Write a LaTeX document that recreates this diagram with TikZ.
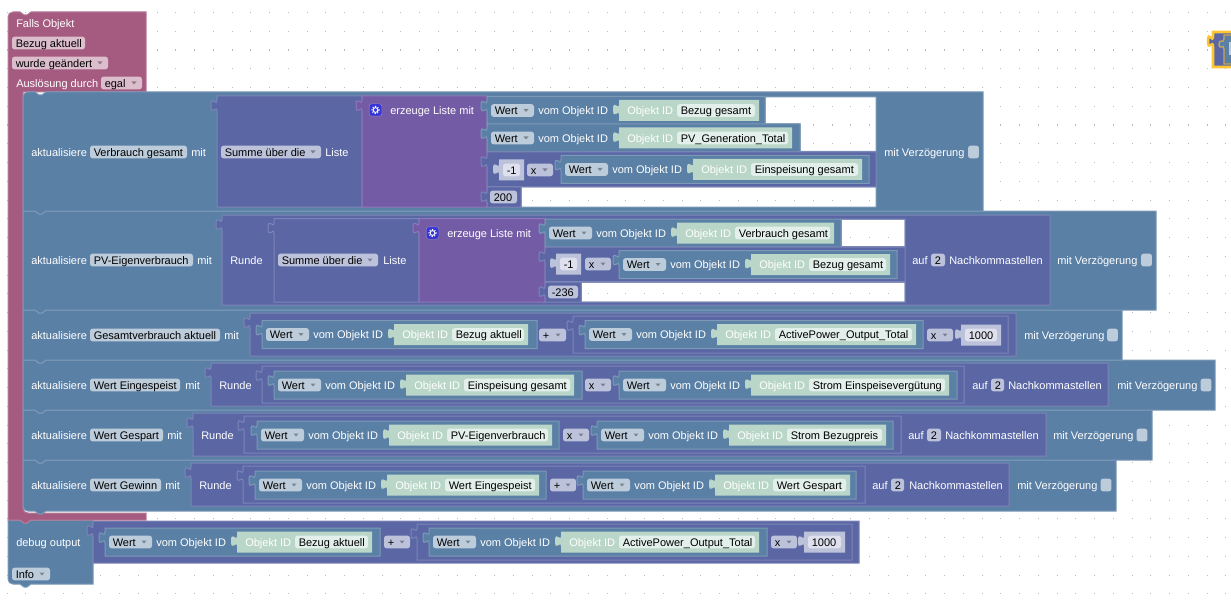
\documentclass[tikz,border=0pt]{standalone}
\usepackage{xcolor}
\usepackage{fontspec}
\setmainfont{Liberation Sans}

\definecolor{redblk}{HTML}{A55B80}
\definecolor{redline}{HTML}{B77C9A}
\definecolor{blueblk}{HTML}{5B80A5}
\definecolor{blueline}{HTML}{7C99B7}
\definecolor{indigoblk}{HTML}{5B67A5}
\definecolor{indigoline}{HTML}{7C85B7}
\definecolor{purpleblk}{HTML}{745BA5}
\definecolor{purpleline}{HTML}{9077B7}
\definecolor{greenblk}{HTML}{B9D6C9}
\definecolor{redfield}{HTML}{DBBDCC}
\definecolor{bluefield}{HTML}{BDCCDB}
\definecolor{indigofield}{HTML}{BDC2DB}
\definecolor{greenfield}{HTML}{E3EFEA}
\definecolor{numfield}{HTML}{DEE0ED}
\definecolor{gridgray}{HTML}{BBBBBB}
\definecolor{selyellow}{HTML}{FCC633}
\definecolor{iconblue}{HTML}{3535D5}

\tikzset{
  blueblock/.style={fill=blueblk,draw=blueline,line width=0.75pt,even odd rule},
  indigoblock/.style={fill=indigoblk,draw=indigoline,line width=0.75pt,even odd rule},
  purpleblock/.style={fill=purpleblk,draw=purpleline,line width=0.75pt},
  redblock/.style={fill=redblk,draw=redline,line width=0.75pt},
  greenblock/.style={fill=greenblk,draw=none},
  lightblock/.style={fill=indigofield,draw=none},
  fieldbox/.style={rounded corners=2pt,inner sep=0pt,minimum height=9.6pt},
  labeltext/.style={font=\fontsize{8.25}{10}\selectfont,text=white,inner sep=0pt,anchor=base west},
  fieldtext/.style={font=\fontsize{8.25}{10}\selectfont,text=black,inner sep=0pt,anchor=base west},
}

\newcommand{\valblock}[6][]{\draw[#2] (#3,#4) -- (#5,#4) -- (#5,#6) -- (#3,#6) -- (#3,#4+15.2) .. controls (#3,#4+7.7) and (#3-6,#4+21.2) .. (#3-6,#4+9.6) .. controls (#3-6,#4-2) and (#3,#4+11.5) .. (#3,#4+4) -- cycle #1;}
\newcommand{\stmtblock}[5][]{\draw[blueblock] (#2,#3) -- (#2+12,#3) -- (#2+16,#3+3) -- (#2+19,#3+3) -- (#2+23,#3) -- (#4,#3) -- (#4,#5) -- (#2+23,#5) -- (#2+19,#5+3) -- (#2+16,#5+3) -- (#2+12,#5) -- (#2,#5) -- cycle #1;}
\newcommand{\lbl}[4]{\node[labeltext] (#1) at (#2,#3+4.4) {#4};}
\newcommand{\txtfield}[6]{\node[fieldbox,fill=#2,minimum width={((#4)-(#3))*0.75pt}] (#1) at ({((#3)+(#4))/2},#5) {};
  \node[fieldtext] (#1txt) at (#3+3.5,#5+4.4) {#6};}
\newcommand{\ddfield}[6]{\txtfield{#1}{#2}{#3}{#4}{#5}{#6}
  \fill[#2!65!black] (#4-10.5,#5-1.5) -- (#4-5.5,#5-1.5) -- (#4-8,#5+1.5) -- cycle;}
\newcommand{\chkbox}[3]{\node[fieldbox,fill=bluefield,minimum width=8.2pt] (#1) at (#2+5.5,#3) {};}
\newcommand{\numblock}[5]{\valblock{lightblock}{#2}{#4-10.5}{#3}{#4+10.5}
  \txtfield{#1}{numfield}{#2+4}{#3-4}{#4}{#5}}
\newcommand{\wertblock}[6]{\valblock{blueblock}{#2}{#3-14}{#5}{#3+14}
  \ddfield{#1dd}{bluefield}{#2+4}{#2+47}{#3}{Wert}
  \lbl{#1vom}{#2+51}{#3}{vom Objekt ID}
  \valblock{greenblock}{#2+132}{#3-10.5}{#4+4}{#3+10.5}
  \lbl{#1oid}{#2+140}{#3}{Objekt ID}
  \txtfield{#1id}{greenfield}{#2+190}{#4}{#3}{#6}}
\newcommand{\iconbox}[3]{\node[rounded corners=2pt,fill=iconblue,draw=purpleline,line width=0.5pt,inner sep=0pt,minimum size=9.5pt] (#1) at (#2,#3) {};
  \draw[white,line width=0.7pt] (#2,#3) circle (2.4);
  \draw[white,line width=0.7pt,dash pattern=on 0.9pt off 1.1pt] (#2,#3) circle (3.6);}

\begin{document}
\begin{tikzpicture}[x=0.75pt,y=0.75pt,yscale=-1,xscale=1]

\useasboundingbox (0,0) rectangle (1231,606);
\fill[white] (0,0) rectangle (1231,606);

\foreach \i in {0,...,65}{\foreach \j in {0,...,31}{
  \fill[gridgray] (6.5+\i*18.75,12+\j*18.75) rectangle (7.7+\i*18.75,13.2+\j*18.75);
}}

\begin{scope}
\clip (1200,20) rectangle (1231,80);
\draw[fill=indigoblk,draw=selyellow,line width=1.9pt] (1240,32) -- (1213,32) -- (1213,36) .. controls (1213,44) and (1208,30) .. (1208,41) .. controls (1208,52) and (1213,39) .. (1213,47) -- (1213,67) -- (1240,67);
\draw[fill=blueblk,draw=selyellow!55!gray,line width=1pt] (1240,35) -- (1224,35) -- (1224,39) .. controls (1224,44) and (1219,38) .. (1219,44) .. controls (1219,51) and (1224,43) .. (1224,49) -- (1224,64) -- (1240,64);
\fill[bluefield] (1229,42) rectangle (1240,55);
\end{scope}

\draw[blueblock] (8,520) -- (20,520) -- (24,523) -- (27,523) -- (31,520) -- (93,520) -- (93,584) -- (31,584) -- (27,587) -- (24,587) -- (20,584) -- (13,584) .. controls (10,584) and (8,582) .. (8,579) -- cycle;
\lbl{dbgtxt}{16}{542}{debug output}
\ddfield{dbginfo}{bluefield}{12}{50}{574}{Info}
\valblock{indigoblock}{93}{521}{859}{563}
\wertblock{dbga}{105}{542}{368}{380}{Bezug aktuell}
\ddfield{dbgop}{indigofield}{384}{410}{542}{+}
\valblock{indigoblock}{417}{524}{852}{560}
\wertblock{dbgb}{429}{542}{755}{767}{ActivePower\_Output\_Total}
\ddfield{dbgmul}{indigofield}{771}{797}{542}{x}
\numblock{dbgnum}{804}{845}{542}{1000}

\draw[redblock] (8,17) .. controls (8,14) and (10,12) .. (13,12) -- (20,12) -- (24,15) -- (27,15) -- (31,12) -- (146,12) -- (146,92) -- (23,92) -- (23,508) .. controls (23,511) and (25,513) .. (28,513) -- (146,513) -- (146,520) -- (31,520) -- (27,523) -- (24,523) -- (20,520) -- (8,520) -- cycle;
\lbl{trigtitle}{16}{23}{Falls Objekt}
\txtfield{trigobj}{redfield}{12}{85}{43}{Bezug aktuell}
\ddfield{trigchg}{redfield}{12}{108}{63}{wurde geändert}
\lbl{trigby}{16}{83}{Auslösung durch}
\ddfield{trigegal}{redfield}{101}{142}{83}{egal}

\draw[blueblock] (23,460) -- (35,460) -- (39,463) -- (42,463) -- (46,460) -- (1116,460) -- (1116,511) -- (46,511) -- (42,514) -- (39,514) -- (35,511) -- (28,511) .. controls (25,511) and (23,509) .. (23,506) -- cycle;
\lbl{rowfa}{31}{485}{aktualisiere}
\txtfield{rowfb}{bluefield}{90}{161}{485}{Wert Gewinn}
\lbl{rowfc}{165}{485}{mit}
\valblock{indigoblock}{191}{463}{1009}{506}
\lbl{rowfd}{199}{485}{Runde}
\valblock{indigoblock}{243}{466}{865}{503}
\wertblock{rowfe}{255}{485}{535}{546}{Wert Eingespeist}
\ddfield{rowff}{indigofield}{550}{576}{485}{+}
\wertblock{rowfg}{583}{485}{846}{856}{Wert Gespart}
\lbl{rowfh}{872}{485}{auf}
\txtfield{rowfi}{indigofield}{891}{904}{485}{2}
\lbl{rowfj}{909}{485}{Nachkommastellen}
\lbl{rowfk}{1017}{485}{mit Verzögerung}
\chkbox{rowfl}{1100.5}{485}

\stmtblock{23}{410}{1152}{460}
\lbl{rowea}{31}{435}{aktualisiere}
\txtfield{roweb}{bluefield}{90}{163}{435}{Wert Gespart}
\lbl{rowec}{167}{435}{mit}
\valblock{indigoblock}{193}{413}{1046}{456}
\lbl{rowed}{201}{435}{Runde}
\valblock{indigoblock}{244}{416}{901}{453}
\wertblock{rowee}{257}{435}{548}{559}{PV-Eigenverbrauch}
\ddfield{rowef}{indigofield}{563}{589}{435}{x}
\wertblock{roweg}{597}{435}{882}{893}{Strom Bezugpreis}
\lbl{roweh}{908}{435}{auf}
\txtfield{rowei}{indigofield}{927}{941}{435}{2}
\lbl{rowej}{945}{435}{Nachkommastellen}
\lbl{rowek}{1053}{435}{mit Verzögerung}
\chkbox{rowel}{1136.5}{435}

\stmtblock{23}{360}{1215}{410}
\lbl{rowda}{31}{385}{aktualisiere}
\txtfield{rowdb}{bluefield}{90}{180}{385}{Wert Eingespeist}
\lbl{rowdc}{185}{385}{mit}
\valblock{indigoblock}{211}{363}{1108}{406}
\lbl{rowdd}{219}{385}{Runde}
\valblock{indigoblock}{262}{366}{964}{403}
\wertblock{rowde}{274}{385}{570}{582}{Einspeisung gesamt}
\ddfield{rowdf}{indigofield}{585}{611}{385}{x}
\wertblock{rowdg}{619}{385}{945}{957}{Strom Einspeisevergütung}
\lbl{rowdh}{972}{385}{auf}
\txtfield{rowdi}{indigofield}{991}{1004}{385}{2}
\lbl{rowdj}{1008}{385}{Nachkommastellen}
\lbl{rowdk}{1117}{385}{mit Verzögerung}
\chkbox{rowdl}{1200.5}{385}

\stmtblock{23}{310}{1122}{360}
\lbl{rowca}{31}{335}{aktualisiere}
\txtfield{rowcb}{bluefield}{90}{220}{335}{Gesamtverbrauch aktuell}
\lbl{rowcc}{224}{335}{mit}
\valblock{indigoblock}{250}{313}{1016}{356}
\wertblock{rowcd}{262}{334.5}{524}{537}{Bezug aktuell}
\ddfield{rowce}{indigofield}{539}{566}{335}{+}
\valblock{indigoblock}{573}{316}{1008}{353}
\wertblock{rowcf}{585}{334.5}{912}{923}{ActivePower\_Output\_Total}
\ddfield{rowcg}{indigofield}{927}{953}{335}{x}
\numblock{rowch}{961}{1001}{335}{1000}
\lbl{rowci}{1024}{335}{mit Verzögerung}
\chkbox{rowcj}{1107}{335}

\stmtblock[(841,219) rectangle (905,246.5) (581,282) rectangle (905,302)]{23}{211}{1156}{310}
\lbl{rowba}{31}{260}{aktualisiere}
\txtfield{rowbb}{bluefield}{90}{193}{260}{PV-Eigenverbrauch}
\lbl{rowbc}{197}{260}{mit}
\valblock[(841,219) rectangle (905,246.5) (581,282) rectangle (905,302)]{indigoblock}{222}{215}{1050}{305}
\lbl{rowbd}{230}{260}{Runde}
\valblock{indigoblock}{274}{218.5}{419}{302}
\ddfield{rowbe}{indigofield}{278}{378}{260}{Summe über die}
\lbl{rowbf}{383}{260}{Liste}
\valblock{purpleblock}{419}{218.5}{545}{302}
\iconbox{rowbg}{432.5}{233}
\lbl{rowbh}{447}{233}{erzeuge Liste mit}
\wertblock{rowbi}{545}{233}{830}{841}{Verbrauch gesamt}
\valblock{indigoblock}{545}{247}{905}{281.5}
\numblock{rowbj}{556}{581}{264}{-1}
\ddfield{rowbk}{indigofield}{585}{611}{264}{x}
\wertblock{rowbl}{619}{264.5}{886}{897}{Bezug gesamt}
\valblock{indigoblock}{545}{282}{581}{302}
\txtfield{rowbm}{indigofield}{548}{578}{292}{-236}
\lbl{rowbn}{912}{260}{auf}
\txtfield{rowbo}{indigofield}{931}{945}{260}{2}
\lbl{rowbp}{949}{260}{Nachkommastellen}
\lbl{rowbq}{1057}{260}{mit Verzögerung}
\chkbox{rowbr}{1141}{260}

\draw[blueblock] (23,97) .. controls (23,94) and (25,92) .. (28,92) -- (35,92) -- (39,95) -- (42,95) -- (46,92) -- (983,92) -- (983,211) -- (46,211) -- (42,214) -- (39,214) -- (35,211) -- (23,211) -- cycle (765,97) -- (876,97) -- (876,151.5) -- (800,151.5) -- (800,124) -- (765,124) -- cycle (521,187) rectangle (876,207);
\lbl{rowaa}{31}{152}{aktualisiere}
\txtfield{rowab}{bluefield}{90}{187}{152}{Verbrauch gesamt}
\lbl{rowac}{191}{152}{mit}
\valblock{indigoblock}{217}{96}{362}{207}
\ddfield{rowad}{indigofield}{221}{321}{152}{Summe über die}
\lbl{rowae}{325}{152}{Liste}
\valblock{purpleblock}{362}{96}{487}{207}
\iconbox{rowaf}{375.5}{110}
\lbl{rowag}{390}{110}{erzeuge Liste mit}
\wertblock{rowah}{487}{110.5}{755}{765}{Bezug gesamt}
\wertblock{rowai}{487}{138}{788}{800}{PV\_Generation\_Total}
\valblock{indigoblock}{487}{152}{876}{187}
\numblock{rowaj}{499}{524}{170}{-1}
\ddfield{rowak}{indigofield}{527}{553}{170}{x}
\wertblock{rowal}{561}{169.5}{858}{869}{Einspeisung gesamt}
\valblock{indigoblock}{487}{187}{521}{207}
\txtfield{rowam}{indigofield}{490}{517}{197}{200}
\lbl{rowan}{884}{152}{mit Verzögerung}
\chkbox{rowao}{968}{152}

\end{tikzpicture}
\end{document}
